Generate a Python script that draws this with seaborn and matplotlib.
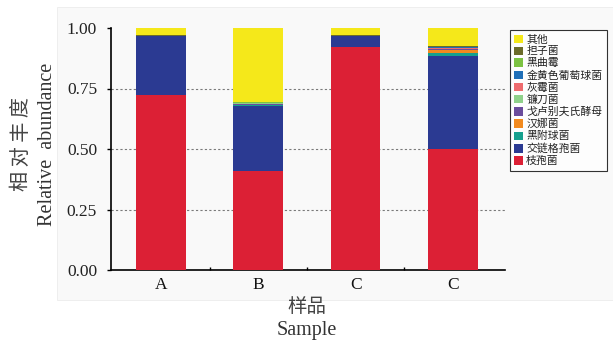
import numpy as np
import pandas as pd
import matplotlib
matplotlib.use("Agg")
import matplotlib.pyplot as plt
from matplotlib.patches import Patch, Rectangle
import seaborn as sns

# Sample labels (the last two are both labelled "C")
samples = ["A", "B", "C", "C"]

# Taxa, listed from the bottom of each stack to the top
taxa = ["枝孢菌", "交链格孢菌", "黑附球菌", "汉娜菌", "戈卢别夫氏酵母", "镰刀菌",
        "灰霉菌", "金黄色葡萄球菌", "黑曲霉", "担子菌", "其他"]

# Relative abundance of each taxon per sample
zhibaojun      = [0.722, 0.409, 0.920, 0.500]
jiaolian       = [0.244, 0.270, 0.048, 0.384]
heifuqiu       = [0.000, 0.002, 0.000, 0.013]
hannajun       = [0.000, 0.001, 0.000, 0.012]
geluxiaomu     = [0.001, 0.004, 0.000, 0.004]
liandaojun     = [0.000, 0.004, 0.000, 0.002]
huimeijun      = [0.000, 0.001, 0.000, 0.003]
jinhuangse     = [0.000, 0.001, 0.000, 0.002]
heiqumei       = [0.000, 0.002, 0.000, 0.002]
danzijun       = [0.003, 0.001, 0.002, 0.002]
qita           = [0.030, 0.305, 0.030, 0.076]

values = [zhibaojun, jiaolian, heifuqiu, hannajun, geluxiaomu, liandaojun,
          huimeijun, jinhuangse, heiqumei, danzijun, qita]

colors = ["#dc2035", "#2b3a92", "#16a08e", "#f28a1e", "#6a4c9c", "#8fd18a",
          "#ee6b6e", "#1f6fb8", "#7cc242", "#6b6b2a", "#f5e81a"]

sns.set_theme(style="white")
plt.rcParams["font.family"] = ["Liberation Serif", "Noto Sans CJK SC", "DejaVu Sans"]

fig = plt.figure(figsize=(6.13, 3.41), dpi=100)
fig.patch.set_facecolor("white")
# light grey panel behind the chart
fig.add_artist(Rectangle((57 / 613, 1 - 300 / 341), 1 - 57 / 613, (300 - 7) / 341,
                         transform=fig.transFigure, facecolor="#f9f9f9",
                         edgecolor="#ececec", lw=0.6, zorder=0))

ax = fig.add_axes([111 / 613, 71 / 341, 394 / 613, 242 / 341])
ax.set_facecolor("none")

df = pd.DataFrame({"pos": np.arange(len(samples))})
bottom = np.zeros(len(samples))
for name, vals, col in zip(taxa, values, colors):
    df["val"] = vals
    sns.barplot(data=df, x="pos", y="val", color=col, width=0.51,
                bottom=bottom.copy(), errorbar=None, saturation=1,
                edgecolor="none", linewidth=0, ax=ax, zorder=3)
    bottom += np.array(vals)

for yv in (0.25, 0.5, 0.75):
    ax.axhline(yv, color="#7a7a7a", lw=0.8, ls=(0, (2, 2)), zorder=1)

ax.set_xlim(-0.514, 3.536)
ax.set_ylim(0, 1.0)
ax.set_yticks([0, 0.25, 0.5, 0.75, 1.0])
ax.set_yticklabels(["0.00", "0.25", "0.50", "0.75", "1.00"])
ax.set_xticks(np.arange(len(samples)))
ax.set_xticklabels(samples)
ax.set_xticks([0.5, 1.5, 2.5], minor=True)
ax.set_xlabel("")
ax.set_ylabel("")
ax.grid(False)

for s in ("top", "right"):
    ax.spines[s].set_visible(False)
for s in ("left", "bottom"):
    ax.spines[s].set_color("black")
    ax.spines[s].set_linewidth(1.2)

ax.tick_params(axis="y", direction="out", length=3, width=1, color="black",
               labelsize=12.5, labelcolor="#222222", pad=7, left=True)
ax.tick_params(axis="x", which="major", length=0, labelsize=12.5,
               labelcolor="#111111", pad=5)
ax.tick_params(axis="x", which="minor", direction="in", length=2, width=1,
               color="black", bottom=True)

# axis titles in Chinese and English
fig.text(21 / 613, 1 - 144 / 341, "相 对 丰 度", rotation=90, ha="center", va="center",
         fontsize=14.5, color="#444444", family=["Noto Sans CJK SC"])
fig.text(48 / 613, 1 - 144 / 341, "Relative  abundance", rotation=90, ha="center",
         va="center", fontsize=14.5, color="#333333")
fig.text(307 / 613, 1 - 306 / 341, "样品", ha="center", va="center", fontsize=14,
         color="#444444", family=["Noto Sans CJK SC"])
fig.text(307 / 613, 1 - 330 / 341, "Sample", ha="center", va="center",
         fontsize=14.5, color="#333333")

handles = [Patch(facecolor=c, edgecolor="none") for c in colors[::-1]]
leg = fig.legend(handles, taxa[::-1], loc="upper left",
                 bbox_to_anchor=(510 / 613, 1 - 30 / 341),
                 bbox_transform=fig.transFigure, frameon=True, fancybox=False,
                 fontsize=7.8, handlelength=0.8, handleheight=0.8,
                 handletextpad=0.3, labelspacing=0.18, borderpad=0.4,
                 borderaxespad=0)
leg.get_frame().set_edgecolor("black")
leg.get_frame().set_linewidth(0.8)
leg.get_frame().set_facecolor("white")
for t in leg.get_texts():
    t.set_family(["Noto Sans CJK SC"])
    t.set_color("#222222")

fig.savefig("out.png", dpi=100)
